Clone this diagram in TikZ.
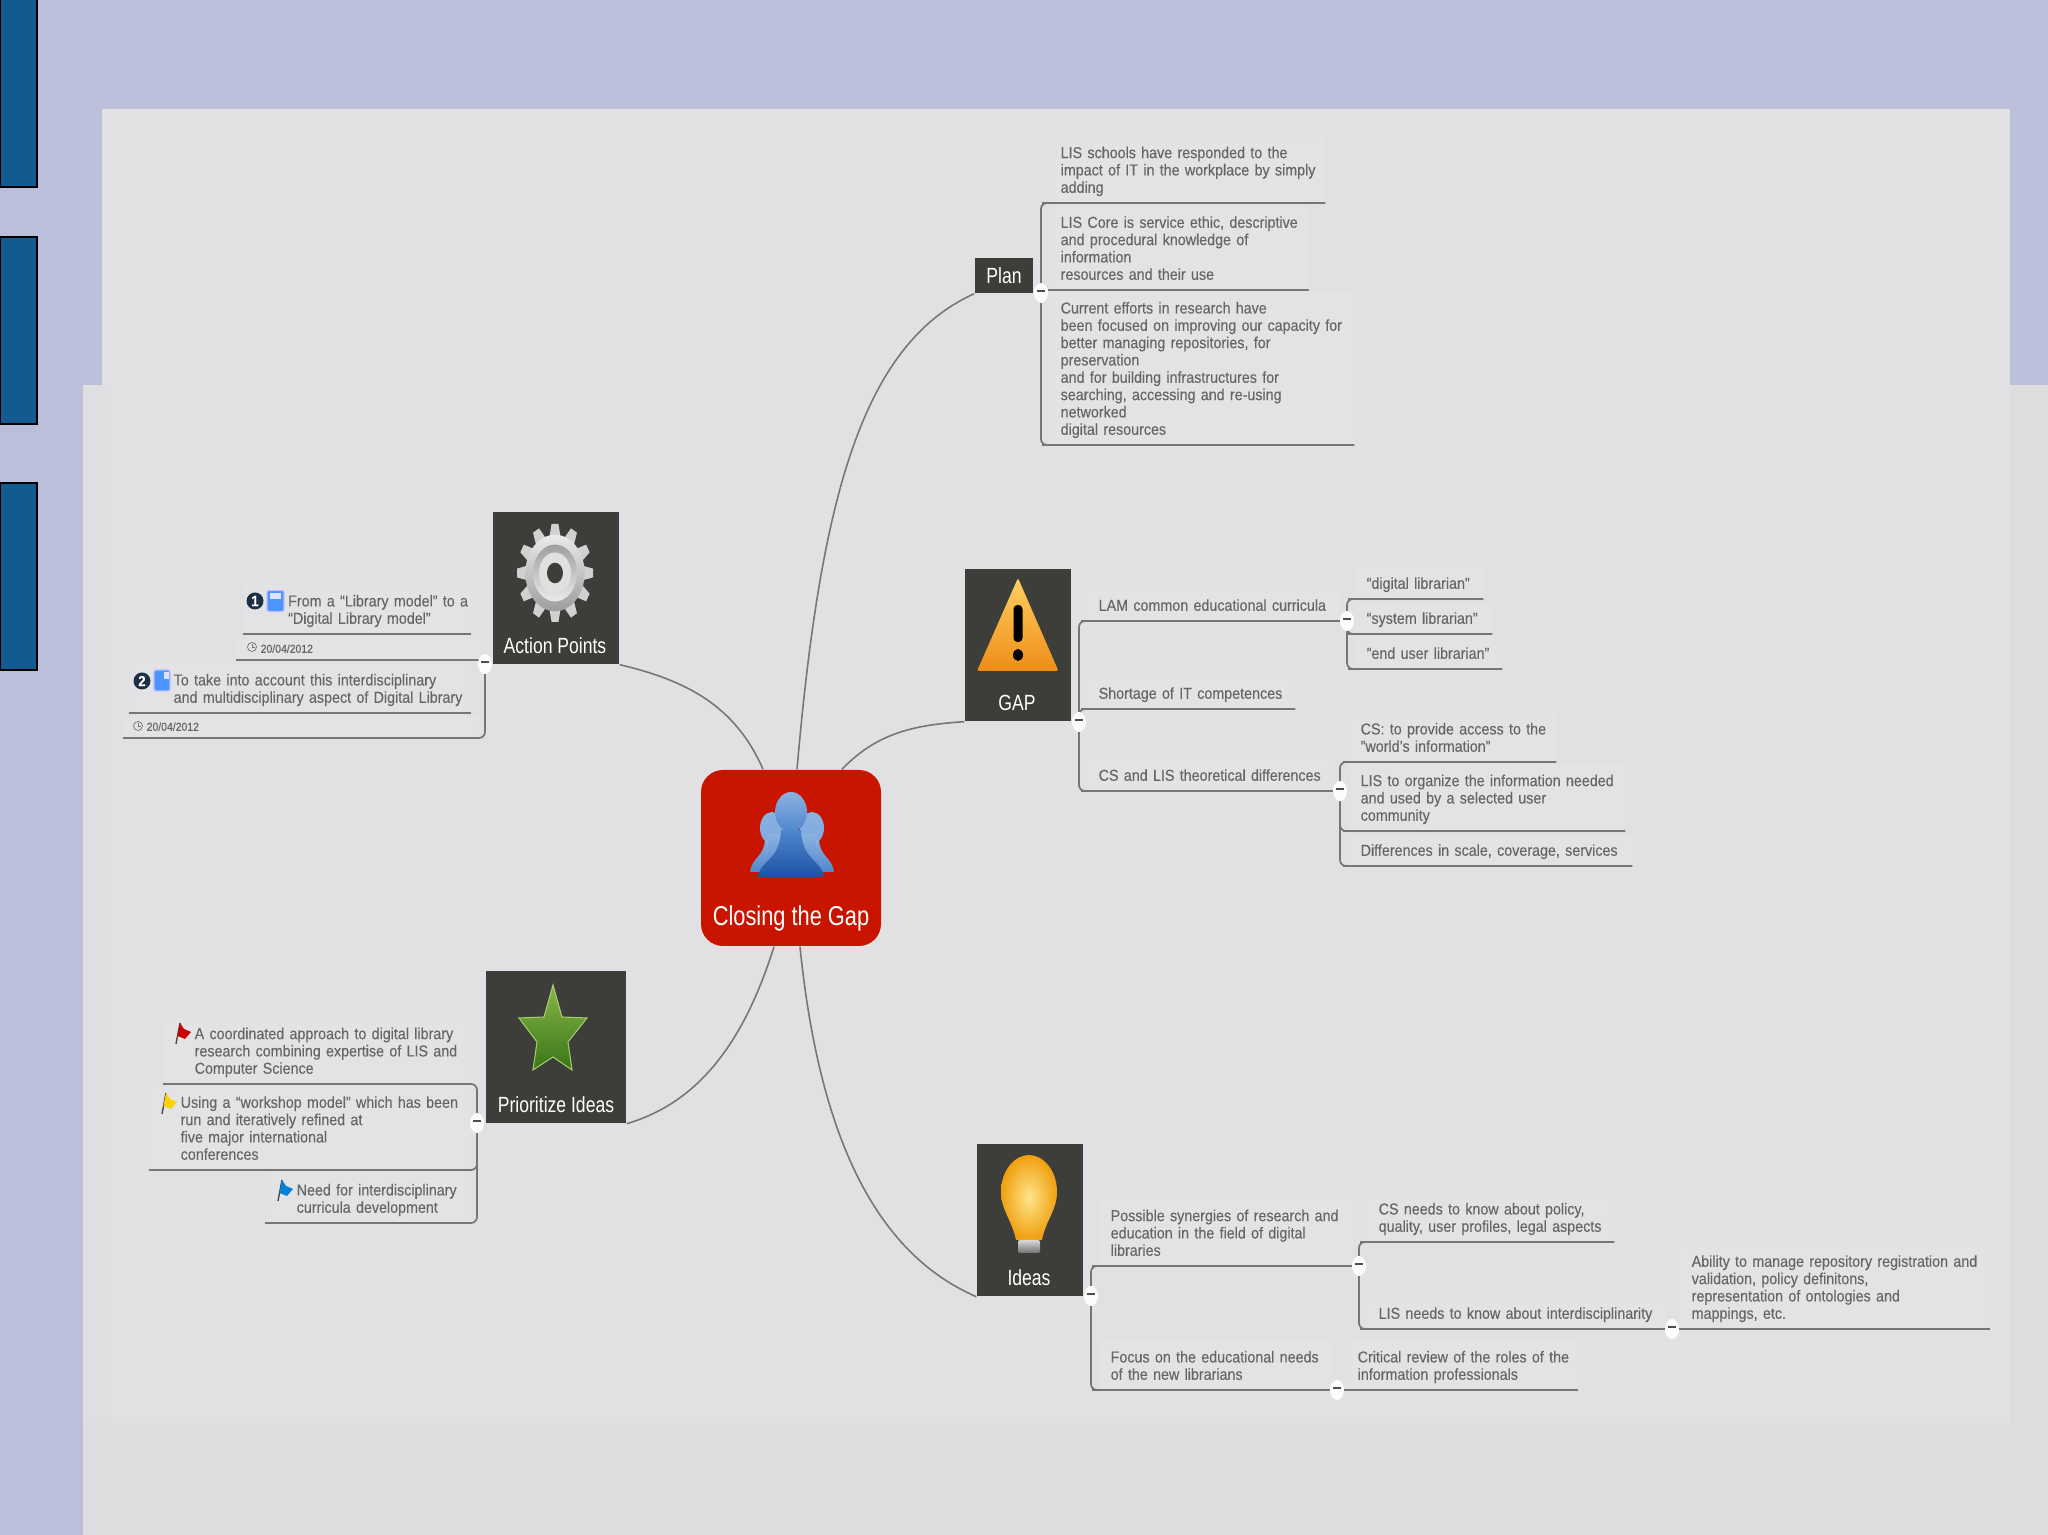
\documentclass[tikz,border=0pt]{standalone}
\usepackage{fontspec}
\usepackage{tikz}
\usepackage{xcolor}
\setmainfont[FakeStretch=0.9,FakeBold=0.15]{Liberation Sans}
\newfontfamily\topicfont[FakeStretch=0.8]{Liberation Sans}
\usetikzlibrary{shapes,calc}
\definecolor{lavender}{HTML}{BBBFD9}
\definecolor{slide}{HTML}{E1E1E3}
\definecolor{slideedge}{HTML}{DDDDDF}
\definecolor{tabblue}{HTML}{125A90}
\definecolor{topicgray}{HTML}{3D3D3A}
\definecolor{hubred}{HTML}{C91400}
\definecolor{leafink}{HTML}{666666}
\definecolor{leafbg}{HTML}{E3E3E5}
\definecolor{wire}{HTML}{767676}
\definecolor{peoplelight}{HTML}{8AB2E2}
\definecolor{peoplemid}{HTML}{4F86CC}
\definecolor{peopledark}{HTML}{1F52A5}
\definecolor{startop}{HTML}{86B646}
\definecolor{starbottom}{HTML}{3A7518}
\definecolor{staredge}{HTML}{A5CC70}
\definecolor{warntop}{HTML}{FFD060}
\definecolor{warnbottom}{HTML}{EE8C18}
\definecolor{bulbcore}{HTML}{FFE58A}
\definecolor{bulbrim}{HTML}{F0A010}
\definecolor{badgeink}{HTML}{1B3044}
\pgfdeclarelayer{front}
\pgfsetlayers{main,front}
\tikzset{
  tab/.style={draw=black,fill=tabblue,line width=0.4pt},
  hub/.style={fill=hubred,rounded corners=0.22cm,minimum width=1.8cm,
              minimum height=1.76cm},
  topic/.style={fill=topicgray,inner sep=0pt},
  topictext/.style={text=white,inner sep=0pt,
                    font=\topicfont\fontsize{6.25}{6.4}\selectfont},
  hubtext/.style={text=white,inner sep=0pt,
                  font=\topicfont\fontsize{7.76}{8}\selectfont},
  leaf/.style={anchor=south west,align=left,inner xsep=0pt,inner ysep=0.095cm,
               text=leafink,fill=leafbg,
               font=\fontsize{4.52}{4.93}\selectfont,
               execute at begin node={\leftskip=0.12cm\relax},
               execute at end node={\par\kern-\prevdepth}},
  indent/.style={execute at begin node={\leftskip=#1\relax}},
  dateleaf/.style={leaf,inner ysep=0.065cm,font=\fontsize{3.3}{3.5}\selectfont},
  toggle/.style={ellipse,fill=white!90!slide,minimum width=0.14cm,
                 minimum height=0.2cm,inner sep=0pt,text=black!70,
                 font=\bfseries\fontsize{5}{5}\selectfont},
  badge/.style={circle,fill=badgeink,text=white,inner sep=0pt,
                minimum size=0.17cm,font=\bfseries\fontsize{4.2}{4.2}\selectfont},
  trunk/.style={draw=wire,line width=0.45pt},
  branch/.style={draw=wire,line width=0.5pt,rounded corners=0.06cm},
  taskicon/.style={draw=blue!25!white,fill=blue!60!cyan!70!white,line width=0.3pt,
                   rounded corners=0.02cm,inner sep=0pt}
}
\begin{document}
\begin{tikzpicture}[x=1cm,y=1cm]
    \path[use as bounding box] (0,0) rectangle (20.48,15.35);
    \fill[lavender] (0,0) rectangle (20.48,15.35);
    \fill[slideedge] (0.83,0) rectangle (20.48,11.50);
    \fill[slide] (1.02,14.26) rectangle (20.10,1.12);
    \fill[slide] (1.12,11.50) rectangle (1.02,1.12);
    \fill[slide!60!slideedge] (0.83,11.50) rectangle (1.12,1.12);
    \foreach \tabtop/\tabbottom in {15.40/13.48,12.98/11.11,10.52/8.65}
      \draw[tab] (0,\tabtop) rectangle (0.37,\tabbottom);

    \node[hub] (hub) at (7.91,6.77) {};
    \node[topic,minimum width=1.26cm,minimum height=1.52cm] (actions) at (5.56,9.47) {};
    \node[topic,minimum width=1.40cm,minimum height=1.52cm] (priority) at (5.56,4.88) {};
    \node[topic,minimum width=0.58cm,minimum height=0.35cm,text=white,
          font=\topicfont\fontsize{6.25}{6.4}\selectfont] (plan) at (10.04,12.595) {Plan};
    \node[topic,minimum width=1.06cm,minimum height=1.52cm] (gap) at (10.18,8.90) {};
    \node[topic,minimum width=1.06cm,minimum height=1.52cm] (ideas) at (10.30,3.15) {};

    \node[hubtext] (hubtext) at (7.91,6.17) {Closing the Gap};
    \node[topictext] (actionstext) at (5.55,8.89) {Action Points};
    \node[topictext] (prioritytext) at (5.56,4.30) {Prioritize Ideas};
    \node[topictext] (gaptext) at (10.17,8.32) {GAP};
    \node[topictext] (ideastext) at (10.29,2.57) {Ideas};

    \begin{pgfonlayer}{front}
      \node[toggle] (planbtn) at (10.41,12.42) {--};
      \node[toggle] (gapbtn) at (10.79,8.13) {--};
      \node[toggle] (gaonebtn) at (13.47,9.14) {--};
      \node[toggle] (gathreebtn) at (13.40,7.44) {--};
      \node[toggle] (ideasbtn) at (10.91,2.39) {--};
      \node[toggle] (ionebtn) at (13.59,2.69) {--};
      \node[toggle] (ionetwobtn) at (16.72,2.06) {--};
      \node[toggle] (itwobtn) at (13.37,1.45) {--};
      \node[toggle] (actionsbtn) at (4.85,8.71) {--};
      \node[toggle] (prioritybtn) at (4.77,4.12) {--};
    \end{pgfonlayer}

    \node[leaf,text width=2.76cm] (planone) at (10.48,13.32)
      {LIS schools have responded to the\\impact of IT in the workplace by simply\\adding};
    \node[leaf,text width=2.60cm] (plantwo) at (10.48,12.45)
      {LIS Core is service ethic, descriptive\\and procedural knowledge of\\information\\resources and their use};
    \node[leaf,text width=3.05cm] (planthree) at (10.48,10.90)
      {Current efforts in research have\\been focused on improving our capacity for\\better managing repositories, for\\preservation\\and for building infrastructures for\\searching, accessing and re-using\\networked\\digital resources};

    \node[leaf,text width=2.53cm,indent=0.11cm] (gaone) at (10.87,9.14)
      {LAM common educational curricula};
    \node[leaf,text width=2.07cm,indent=0.11cm] (gatwo) at (10.87,8.26)
      {Shortage of IT competences};
    \node[leaf,text width=2.46cm,indent=0.11cm] (gathree) at (10.87,7.44)
      {CS and LIS theoretical differences};
    \node[leaf,text width=1.28cm] (gaonea) at (13.54,9.36) {“digital librarian”};
    \node[leaf,text width=1.37cm] (gaoneb) at (13.54,9.01) {“system librarian"};
    \node[leaf,text width=1.47cm] (gaonec) at (13.54,8.66) {"end user librarian"};
    \node[leaf,text width=2.06cm,indent=0.11cm] (gathreea) at (13.49,7.73)
      {CS: to provide access to the\\"world's information"};
    \node[leaf,text width=2.75cm,indent=0.11cm] (gathreeb) at (13.49,7.04)
      {LIS to organize the information needed\\and used by a selected user\\community};
    \node[leaf,text width=2.82cm,indent=0.11cm] (gathreec) at (13.49,6.69)
      {Differences in scale, coverage, services};

    \node[leaf,text width=2.54cm] (ione) at (10.98,2.69)
      {Possible synergies of research and\\education in the field of digital\\libraries};
    \node[leaf,text width=2.32cm] (itwo) at (10.98,1.45)
      {Focus on the educational needs\\of the new librarians};
    \node[leaf,text width=2.47cm] (ionea) at (13.66,2.93)
      {CS needs to know about policy,\\quality, user profiles, legal aspects};
    \node[leaf,text width=2.99cm] (ioneb) at (13.66,2.06)
      {LIS needs to know about interdisciplinarity};
    \node[leaf,text width=3.10cm] (ionec) at (16.79,2.06)
      {Ability to manage repository registration and\\validation, policy definitons,\\representation of ontologies and\\mappings, etc.};
    \node[leaf,text width=2.32cm] (itwoa) at (13.45,1.45)
      {Critical review of the roles of the\\information professionals};

    \node[leaf,text width=2.27cm,indent=0.445cm] (aone) at (2.43,9.01)
      {From a “Library model” to a\\“Digital Library model”};
    \node[dateleaf,text width=2.45cm,indent=0.24cm] (aonedate) at (2.36,8.75) {20/04/2012};
    \node[leaf,text width=3.41cm,indent=0.44cm] (atwo) at (1.29,8.22)
      {To take into account this interdisciplinary\\and multidisciplinary aspect of Digital Library};
    \node[dateleaf,text width=3.55cm,indent=0.23cm] (atwodate) at (1.23,7.97) {20/04/2012};

    \node[leaf,text width=3.07cm,indent=0.31cm] (pone) at (1.63,4.51)
      {A coordinated approach to digital library\\research combining expertise of LIS and\\Computer Science};
    \node[leaf,text width=3.21cm,indent=0.31cm] (ptwo) at (1.49,3.65)
      {Using a “workshop model” which has been\\run and iteratively refined at\\five major international\\conferences};
    \node[leaf,text width=2.05cm,indent=0.31cm] (pthree) at (2.65,3.12)
      {Need for interdisciplinary\\curricula development};

    \draw[trunk] ($(hub.north)+(-0.28,0)$) .. controls (7.35,8.30) and (6.85,8.55) .. (actions.south east);
    \draw[trunk] ($(hub.north)+(0.06,0)$) .. controls (8.20,10.30) and (8.60,11.90) .. (plan.south west);
    \draw[trunk] ($(hub.north)+(0.51,0)$) .. controls (8.75,8.00) and (9.10,8.10) .. (gap.south west);
    \draw[trunk] ($(hub.south)+(-0.17,0)$) .. controls (7.40,4.80) and (6.90,4.30) .. (priority.south east);
    \draw[trunk] ($(hub.south)+(0.09,0)$) .. controls (8.20,3.90) and (8.80,2.80) .. (ideas.south west);

    \draw[branch] (planbtn.center) |- (planone.south west) -- (planone.south east);
    \draw[branch] (plantwo.south west) -- (plantwo.south east);
    \draw[branch] (planbtn.center) |- (planthree.south west) -- (planthree.south east);

    \draw[branch] (gapbtn.center) |- (gaone.south west) -- (gaonebtn.center);
    \draw[branch] (gapbtn.center) |- (gatwo.south west) -- (gatwo.south east);
    \draw[branch] (gapbtn.center) |- (gathree.south west) -- (gathreebtn.center);
    \draw[branch] (gaonebtn.center) |- (gaonea.south west) -- (gaonea.south east);
    \draw[branch] (gaonebtn.center) |- (gaoneb.south west) -- (gaoneb.south east);
    \draw[branch] (gaonebtn.center) |- (gaonec.south west) -- (gaonec.south east);
    \draw[branch] (gathreebtn.center) |- (gathreea.south west) -- (gathreea.south east);
    \draw[branch] (gathreebtn.center) |- (gathreeb.south west) -- (gathreeb.south east);
    \draw[branch] (gathreebtn.center) |- (gathreec.south west) -- (gathreec.south east);

    \draw[branch] (ideasbtn.center) |- (ione.south west) -- (ionebtn.center);
    \draw[branch] (ideasbtn.center) |- (itwo.south west) -- (itwobtn.center);
    \draw[branch] (ionebtn.center) |- (ionea.south west) -- (ionea.south east);
    \draw[branch] (ionebtn.center) |- (ioneb.south west) -- (ionetwobtn.center);
    \draw[branch] (ionetwobtn.center) -- (ionec.south east);
    \draw[branch] (itwobtn.center) -- (itwoa.south east);

    \draw[branch] (aone.south west) -- (aone.south east);
    \draw[branch] (aonedate.south west) -- (aonedate.south east);
    \draw[branch] (atwo.south west) -- (atwo.south east);
    \draw[branch] (actionsbtn.center) |- (atwodate.south west);

    \draw[branch] (prioritybtn.center) |- (pone.south west);
    \draw[branch] (prioritybtn.center) |- (ptwo.south west);
    \draw[branch] (prioritybtn.center) |- (pthree.south west);

    % people
    \foreach \backx in {7.72,8.12}{
      \shade[top color=peoplelight,bottom color=peoplelight!80!peoplemid]
        (\backx,7.07) ellipse (0.12 and 0.16);
      \shade[top color=peoplelight,bottom color=peoplemid]
        (\backx-0.22,6.63) .. controls (\backx-0.20,6.78) and (\backx-0.08,6.78) .. (\backx-0.07,6.95)
        -- (\backx+0.07,6.95) .. controls (\backx+0.08,6.78) and (\backx+0.20,6.78) .. (\backx+0.22,6.63) -- cycle;
    }
    \shade[top color=peoplelight,bottom color=peoplemid] (7.68,6.63) rectangle (8.16,7.00);
    \shade[top color=peoplelight,bottom color=peoplemid] (7.91,7.23) ellipse (0.16 and 0.20);
    \shade[top color=peoplemid,bottom color=peopledark]
      (7.58,6.58) .. controls (7.60,6.75) and (7.80,6.74) .. (7.81,7.05)
      -- (8.01,7.05) .. controls (8.02,6.74) and (8.22,6.75) .. (8.24,6.58) -- cycle;

    % gear
    \begin{scope}[shift={(5.55,9.62)},xscale=0.38,yscale=0.49]
      \foreach \toothangle in {0,30,...,330}
        \fill[black!18,rotate=\toothangle] (-0.15,0.72) -- (-0.09,1) -- (0.09,1) -- (0.15,0.72) -- cycle;
      \shade[top color=black!8,bottom color=black!38] (0,0) circle (0.78);
      \shade[top color=black!38,bottom color=black!8] (0,0) circle (0.58);
      \fill[black!12] (0,0) circle (0.42);
      \fill[topicgray] (0,0) circle (0.21);
    \end{scope}

    % star
    \shade[top color=startop,bottom color=starbottom,draw=staredge,line width=0.3pt]
      (5.53,5.50) -- (5.62,5.18) -- (5.87,5.17) -- (5.68,4.93) -- (5.72,4.65) -- (5.53,4.78)
      -- (5.33,4.65) -- (5.37,4.93) -- (5.19,5.17) -- (5.44,5.18) -- cycle;

    % warning
    \shade[top color=warntop,bottom color=warnbottom,rounded corners=0.02cm]
      (10.18,9.57) -- (10.585,8.64) -- (9.77,8.64) -- cycle;
    \fill[black,rounded corners=0.04cm] (10.135,9.30) rectangle (10.225,8.93);
    \fill[black] (10.18,8.80) ellipse (0.05 and 0.06);

    % bulb
    \shade[inner color=bulbcore,outer color=bulbrim]
      (10.16,2.95) .. controls (10.12,3.15) and (10.01,3.25) .. (10.01,3.43)
      .. controls (10.01,3.65) and (10.15,3.80) .. (10.29,3.80)
      .. controls (10.43,3.80) and (10.57,3.65) .. (10.57,3.43)
      .. controls (10.57,3.25) and (10.46,3.15) .. (10.42,2.95) -- cycle;
    \shade[top color=black!15,bottom color=black!55,rounded corners=0.02cm] (10.18,2.95) rectangle (10.40,2.82);

    % flags
    \foreach \flagx/\flagy/\flagcolor in {1.76/4.91/red!80!black,1.62/4.21/yellow!70!orange,2.78/3.34/blue!40!cyan!85!black}{
      \draw[black!70,line width=0.4pt] (\flagx,\flagy) -- (\flagx+0.04,\flagy+0.21);
      \fill[\flagcolor] (\flagx+0.04,\flagy+0.21) -- (\flagx+0.08,\flagy+0.15) -- (\flagx+0.15,\flagy+0.12)
        -- (\flagx+0.09,\flagy+0.05) -- (\flagx+0.015,\flagy+0.08) -- cycle;
    }

    \node[badge] (badgeone) at (2.55,9.34) {1};
    \node[badge] (badgetwo) at (1.42,8.54) {2};
    \node[taskicon,minimum width=0.17cm,minimum height=0.21cm] (taskone) at (2.755,9.34) {};
    \node[taskicon,minimum width=0.16cm,minimum height=0.21cm] (tasktwo) at (1.62,8.545) {};
    \fill[white!60!blue!30!white] (2.70,9.42) rectangle (2.81,9.36);
    \fill[white!60!blue!30!white] (1.635,8.63) rectangle (1.69,8.56);

    % clocks
    \foreach \clockx/\clocky in {2.52/8.88,1.38/8.09}{
      \draw[black!55,line width=0.2pt] (\clockx,\clocky) circle (0.045);
      \draw[black!55,line width=0.2pt] (\clockx,\clocky+0.03) -- (\clockx,\clocky) -- (\clockx+0.025,\clocky);
    }
\end{tikzpicture}
\end{document}
